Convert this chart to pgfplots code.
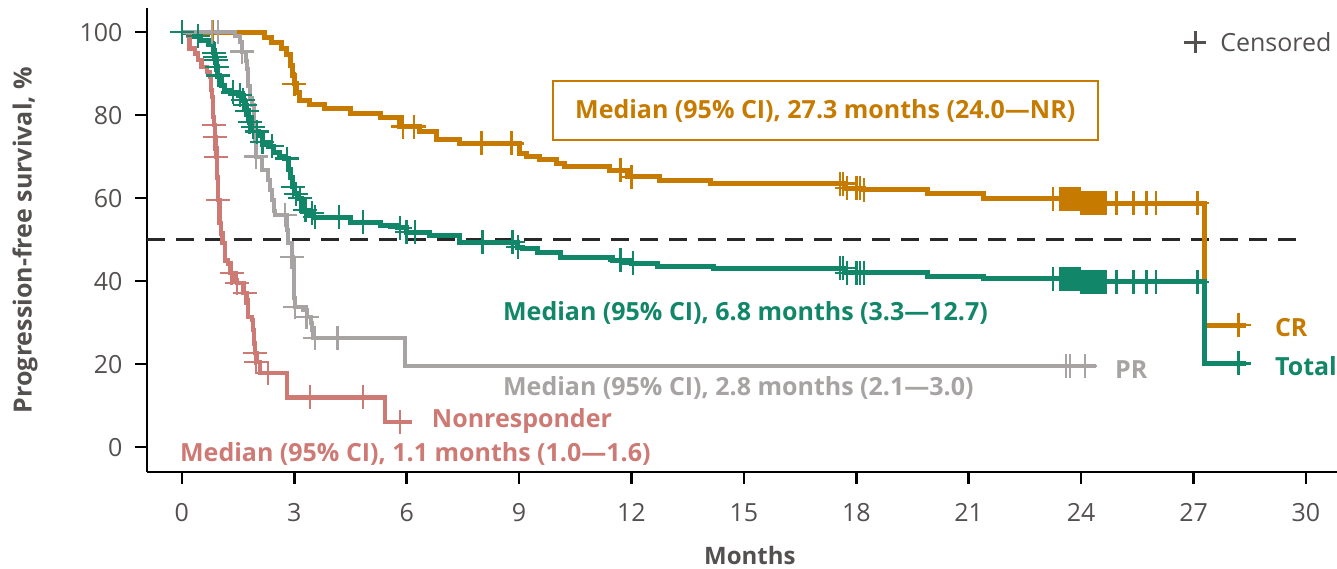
\documentclass[border=0pt]{standalone}
\usepackage{fontspec}
\setmainfont{Open Sans}
\usepackage{pgfplots}
\usepackage{pgfplotstable}
\pgfplotsset{compat=1.18}

\definecolor{crcol}{RGB}{198,123,0}
\definecolor{totcol}{RGB}{18,134,104}
\definecolor{prcol}{RGB}{168,163,163}
\definecolor{nrcol}{RGB}{205,122,117}
\definecolor{txtcol}{RGB}{85,80,80}

\newcommand{\lblfont}{\fontsize{25}{29}\selectfont\bfseries}

% Kaplan-Meier step curves: time (months), PFS (%)
\pgfplotstableread{
t s
0 100
2.2 98.8
2.4 97.5
2.67 96
2.8 94.5
2.9 92
2.95 89.5
3.0 87.5
3.05 85.5
3.15 83.5
3.4 82.5
3.8 81.5
4.5 80.5
5.3 79.3
5.8 77.2
6.35 76
6.8 74
7.4 73.2
9.0 70.8
9.2 70
9.55 69.2
10.0 68.4
10.2 67.5
11.4 66.7
11.9 65.1
12.75 64.3
14.1 63.5
17.7 62.4
18.2 62.0
19.9 61.1
21.4 59.9
23.97 58.8
27.3 29.4
28.4 29.4
}\crcurve
\pgfplotstableread{
t s
0.83 100
3.0 87.5
5.9 77.2
6.2 77.2
8.0 73.2
8.8 73.2
11.7 66.7
12.0 65.1
17.56 63.5
17.64 63.5
17.75 62.4
18.0 62.4
18.1 62.4
18.2 62.0
23.25 59.9
23.45 59.9
23.5 59.9
23.55 59.9
23.6 59.9
23.65 59.9
23.7 59.9
23.75 59.9
23.8 59.9
23.85 59.9
23.9 59.9
23.95 59.9
24.0 58.8
24.05 58.8
24.1 58.8
24.15 58.8
24.2 58.8
24.25 58.8
24.3 58.8
24.35 58.8
24.4 58.8
24.45 58.8
24.5 58.8
24.55 58.8
24.6 58.8
24.65 58.8
24.95 58.8
25.4 58.8
25.75 58.8
26.0 58.8
27.1 58.8
28.2 29.4
}\crcens

\pgfplotstableread{
t s
0 100
0.2 99.5
0.35 99
0.5 98
0.7 97
0.84 95
0.88 94
0.9 93.3
0.93 91.6
0.96 89.6
1.0 88.5
1.07 87.2
1.15 86
1.3 85.5
1.5 84.8
1.6 83.6
1.66 82.4
1.72 81
1.78 79.5
1.81 78.3
1.88 77.1
1.95 76
2.05 75
2.15 73.5
2.3 72.5
2.45 71
2.6 70
2.75 69.5
2.85 67
2.9 65
2.94 62.7
3.0 61
3.1 60
3.2 57.1
3.4 56.4
3.52 55.4
4.5 54.2
5.3 53.5
5.75 52.8
6.0 51.8
6.6 51.1
7.4 49.4
8.95 48.2
9.1 47.9
9.5 47
10.1 45.8
11.5 45
12.0 44.3
12.7 43.4
14.2 43.1
17.7 42.0
19.9 41.0
21.4 40.6
23.97 39.8
27.3 20.2
28.4 20.2
}\totcurve
\pgfplotstableread{
t s
0 100
0.43 99
0.86 95
0.88 94
0.9 93.3
0.93 91.6
0.96 89.6
1.36 85.5
1.55 84.8
1.63 83.6
1.68 82.4
1.74 81
1.81 78.3
1.9 77.1
2.0 76
2.15 73.5
2.4 72.5
2.8 69.5
2.96 62.7
3.05 61
3.15 60
3.3 57.1
3.47 56.4
3.55 55.4
4.2 55.4
4.83 54.2
5.82 52.8
6.0 51.8
6.22 51.8
8.03 49.4
8.83 49.4
8.97 48.2
11.7 45
12.04 44.3
17.56 43.1
17.64 43.1
17.75 42.0
18.0 42.0
18.1 42.0
18.2 42.0
23.25 40.6
23.45 40.6
23.5 40.6
23.55 40.6
23.6 40.6
23.65 40.6
23.7 40.6
23.75 40.6
23.8 40.6
23.85 40.6
23.9 40.6
23.95 40.6
24.0 39.8
24.05 39.8
24.1 39.8
24.15 39.8
24.2 39.8
24.25 39.8
24.3 39.8
24.35 39.8
24.4 39.8
24.45 39.8
24.5 39.8
24.55 39.8
24.6 39.8
24.65 39.8
24.95 39.8
25.4 39.8
25.75 39.8
26.0 39.8
27.1 39.8
28.2 20.2
}\totcens

\pgfplotstableread{
t s
0 100
1.41 99
1.55 97.7
1.6 95.3
1.7 93
1.73 91
1.76 87
1.81 84
1.87 82.5
1.92 78
1.95 74
1.98 70
2.13 66.7
2.3 64.3
2.35 62
2.4 59.5
2.45 57
2.48 55.9
2.8 52.3
2.83 49.2
2.93 45.8
2.96 45
2.98 40
3.0 36
3.02 33.7
3.23 33
3.33 31.3
3.45 30
3.47 28.2
3.5 26.3
5.95 19.5
24.4 19.5
}\prcurve
\pgfplotstableread{
t s
0.8 100
0.96 100
1.6 95.3
1.98 70
2.75 55.9
2.93 45.8
3.02 33.7
3.33 31.3
3.55 26.3
4.16 26.3
23.6 19.5
23.7 19.5
24.1 19.5
}\prcens

\pgfplotstableread{
t s
0 100
0.16 99
0.21 96.1
0.35 94.9
0.43 93.3
0.53 91.6
0.67 90.4
0.75 89.2
0.78 86
0.8 84.4
0.83 79.5
0.86 77.6
0.88 74.7
0.9 72
0.92 69.9
0.94 65
0.96 59.5
1.01 54
1.05 51.5
1.09 49.2
1.15 45
1.23 44.3
1.28 41.9
1.41 40.2
1.47 39.5
1.63 37.1
1.73 35.4
1.76 31.3
1.87 30.6
1.9 28.2
1.93 25
1.95 22.7
2.0 20.5
2.08 17.8
2.8 12.0
5.42 6.0
6.14 6.0
}\nrcurve
\pgfplotstableread{
t s
0.86 77.6
0.88 74.7
0.92 69.9
0.96 59.5
1.33 41.9
1.47 39.5
1.68 37.1
1.95 22.7
1.98 20.5
2.3 17.8
3.42 12.0
4.83 12.0
5.82 6.0
}\nrcens

\begin{document}
\begin{tikzpicture}
\useasboundingbox (-147pt,-97pt) rectangle (1190pt,472pt);
\begin{axis}[
  x=37.47pt, y=4.15pt,
  xmin=-0.93, xmax=30.82, ymin=-6, ymax=105.8,
  axis lines=left,
  axis line style={-, line width=2.5pt, black},
  xtick={0,3,...,30}, ytick={0,20,...,100},
  tick align=outside, major tick length=12pt,
  tick style={line width=2.5pt, black},
  tick label style={font=\fontsize{25}{29}\selectfont, text=txtcol},
  yticklabel style={xshift=-9pt},
  xticklabel style={yshift=-16pt},
  /pgf/number format/assume math mode=true,
  xlabel={Months}, ylabel={Progression-free survival, \%},
  label style={font=\fontsize{24}{28}\selectfont\bfseries, text=txtcol},
  ylabel style={font=\fontsize{25}{29}\selectfont\bfseries},
  xlabel style={at={(axis description cs:0.5067,-0.181)}, anchor=center},
  ylabel style={at={(axis description cs:-0.1025,0.5)}, anchor=center, rotate=0},
  clip=false,
  legend style={draw=none, fill=none, at={(axis description cs:1,0.957)}, anchor=north east,
    font=\fontsize{25}{29}\selectfont, text=txtcol,
    /tikz/every odd column/.append style={column sep=12pt}},
  legend cell align=left,
]
% reference line at the median
\addplot[color={rgb,255:red,40;green,40;blue,40}, line width=2.5pt, dash pattern=on 18pt off 11pt, forget plot]
  coordinates {(-0.93,50) (30,50)};

\addplot[const plot, crcol, line width=5pt, forget plot] table[x=t,y=s]{\crcurve};
\addplot[only marks, mark=+, mark size=12pt, crcol, line width=2.5pt, forget plot] table[x=t,y=s]{\crcens};

\addplot[const plot, totcol, line width=5pt, forget plot] table[x=t,y=s]{\totcurve};
\addplot[only marks, mark=+, mark size=12pt, totcol, line width=2.5pt, forget plot] table[x=t,y=s]{\totcens};

\addplot[const plot, nrcol, line width=4.5pt, forget plot] table[x=t,y=s]{\nrcurve};
\addplot[only marks, mark=+, mark size=12pt, nrcol, line width=2.5pt, forget plot] table[x=t,y=s]{\nrcens};

\addplot[const plot, prcol, line width=4pt, forget plot] table[x=t,y=s]{\prcurve};
\addplot[only marks, mark=+, mark size=12pt, prcol, line width=2.5pt, forget plot] table[x=t,y=s]{\prcens};

\addlegendimage{only marks, mark=+, mark size=11pt, txtcol, line width=2.5pt}
\addlegendentry{Censored}

\node[draw=crcol, line width=2pt, text=crcol, font=\lblfont,
  minimum width=545pt, minimum height=59pt, inner sep=0pt]
  at (axis cs:17.17,81.1) {Median (95\% CI), 27.3 months (24.0—NR)};
\node[anchor=west, text=totcol, font=\lblfont, inner sep=0pt]
  at (axis cs:8.57,32.3) {Median (95\% CI), 6.8 months (3.3—12.7)};
\node[anchor=west, text=prcol, font=\lblfont, inner sep=0pt]
  at (axis cs:8.57,14.2) {Median (95\% CI), 2.8 months (2.1—3.0)};
\node[anchor=west, text=nrcol, font=\lblfont, inner sep=0pt]
  at (axis cs:6.67,6.3) {Nonresponder};
\node[anchor=west, text=nrcol, font=\lblfont, inner sep=0pt]
  at (axis cs:-0.05,-1.7) {Median (95\% CI), 1.1 months (1.0—1.6)};
\node[anchor=west, text=crcol, font=\lblfont, inner sep=0pt]
  at (axis cs:29.17,28.9) {CR};
\node[anchor=west, text=totcol, font=\lblfont, inner sep=0pt]
  at (axis cs:29.17,19.5) {Total};
\node[anchor=west, text=prcol, font=\lblfont, inner sep=0pt]
  at (axis cs:24.9,18.6) {PR};
\end{axis}
\end{tikzpicture}
\end{document}
